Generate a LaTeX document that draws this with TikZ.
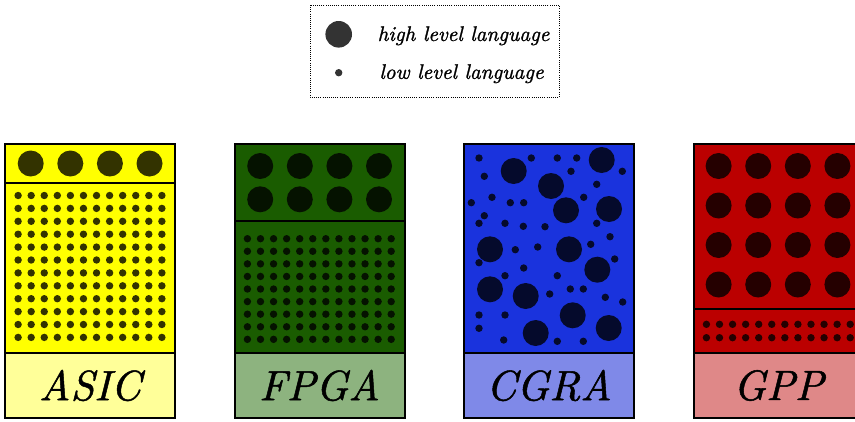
\documentclass[tikz,border=0pt]{standalone}
\usepackage{graphicx}
\usepackage{fontspec}
% Latin Modern italic, 10pt design size, slightly emboldened
\newfontfamily\heavyit{lmroman10-italic.otf}[FakeBold=1.2]
\definecolor{asicmain}{RGB}{255,255,0}
\definecolor{asiclabel}{RGB}{255,255,153}
\definecolor{fpgamain}{RGB}{26,92,0}
\definecolor{fpgalabel}{RGB}{141,179,127}
\definecolor{cgramain}{RGB}{26,51,221}
\definecolor{cgralabel}{RGB}{127,137,232}
\definecolor{gppmain}{RGB}{187,0,0}
\definecolor{gpplabel}{RGB}{223,136,136}
\newcommand\bigit[1]{\scalebox{3.18}{\fontsize{10}{12}\heavyit #1}}
\newcommand\legit[1]{\scalebox{1.58}{\fontsize{10}{12}\heavyit #1}}
\tikzset{
  frame/.style={draw=black, line width=1.5pt},
  blob/.style={fill=black, fill opacity=0.8},
  lbl/.style={inner sep=0pt},
  legtext/.style={inner sep=0pt},
}
\begin{document}
\begin{tikzpicture}[x=0.75pt,y=0.75pt,yscale=-1]
\useasboundingbox (0,0) rectangle (855,421);
\clip (0,0) rectangle (855,421);

% legend
\draw[densely dotted, line width=0.6pt] (310,5) rectangle (559,97);
\fill[blob] (338.7,34.3) circle (13.3);
\fill[blob] (338.7,72.7) circle (3.7);
\node[legtext] (hll) at (463.5,35.8) {\legit{high level language}};
\node[legtext] (lll) at (461.5,73.7) {\legit{low level language}};

% ASIC: few coarse blocks, dense fine-grained fabric
\fill[asicmain] (5,144) rectangle (175,353);
\fill[asiclabel] (5,353) rectangle (175,418);
\foreach \k in {0,...,3} \fill[blob] ({30.7+39.6*\k},163.5) circle (13);
\foreach \k in {0,...,11} \foreach \j in {0,...,11}
  \fill[blob] ({90+(\k-5.5)*13.07},{195.5+\j*12.9}) circle (3.7);
\draw[frame] (5,144) rectangle (175,418) (5,183) -- (175,183) (5,353) -- (175,353);
\node[lbl] (asic) at (90,385.5) {\bigit{ASIC}};

% FPGA
\fill[fpgamain] (234.5,144) rectangle (404.5,353);
\fill[fpgalabel] (234.5,353) rectangle (404.5,418);
\foreach \k in {0,...,3} \foreach \r in {166,199.3}
  \fill[blob] ({260.2+39.6*\k},\r) circle (13);
\foreach \k in {0,...,11} \foreach \j in {0,...,8}
  \fill[blob] ({319.3+(\k-5.5)*13.07},{238.7+\j*12.58}) circle (3.7);
\draw[frame] (234.5,144) rectangle (404.5,418) (234.5,221) -- (404.5,221) (234.5,353) -- (404.5,353);
\node[lbl] (fpga) at (319.5,385.5) {\bigit{FPGA}};

% CGRA: mixed granularity scattered over the array
\fill[cgramain] (464,144) rectangle (634,353);
\fill[cgralabel] (464,353) rectangle (634,418);
\foreach \p in {(513.7,171),(601.7,160),(551,186),(566,210.3),(609,209),
  (490,249.3),(569,249.3),(597.3,269.7),(490,289.3),(525.7,296),
  (572.7,315.3),(608.7,328),(535.7,333)}
  \fill[blob] \p circle (13);
\foreach \p in {(479,158),(531.3,158),(557.3,158),(576.7,158),(484.3,176.3),
  (571,171.3),(622.3,171.3),(596.7,184.3),(471.3,202.7),(492,197.3),
  (510.3,202.7),(523.7,202.7),(583.7,197.3),(484.3,215.7),(479,223.3),
  (505,223.3),(523.3,226.3),(545,226.7),(596.7,223.3),(610,236.7),
  (515.3,249.7),(537.7,247),(590.7,244.3),(479,262.7),(523.7,268),
  (614.7,259),(505,275.7),(557.3,275.7),(570.3,289),(583.3,289),
  (549.7,294),(605.3,297.3),(622.7,302),(479,315),(505,315),
  (479,328.3),(503.7,340),(557.3,341.3),(583.3,341.3)}
  \fill[blob] \p circle (3.7);
\draw[frame] (464,144) rectangle (634,418) (464,353) -- (634,353);
\node[lbl] (cgra) at (549,385.5) {\bigit{CGRA}};

% GPP
\fill[gppmain] (693.5,144) rectangle (863.5,353);
\fill[gpplabel] (693.5,353) rectangle (863.5,418);
\foreach \k in {0,...,3} \foreach \r in {166,205.5,245,284.5}
  \fill[blob] ({718.6+39.6*\k},\r) circle (13);
\foreach \k in {0,...,11} \foreach \r in {324.3,337.7}
  \fill[blob] ({778.3+(\k-5.5)*13.07},\r) circle (3.7);
\draw[frame] (693.5,144) rectangle (863.5,418) (693.5,309) -- (863.5,309) (693.5,353) -- (863.5,353);
\node[lbl] (gpp) at (778.5,385.5) {\bigit{GPP}};
\end{tikzpicture}
\end{document}
